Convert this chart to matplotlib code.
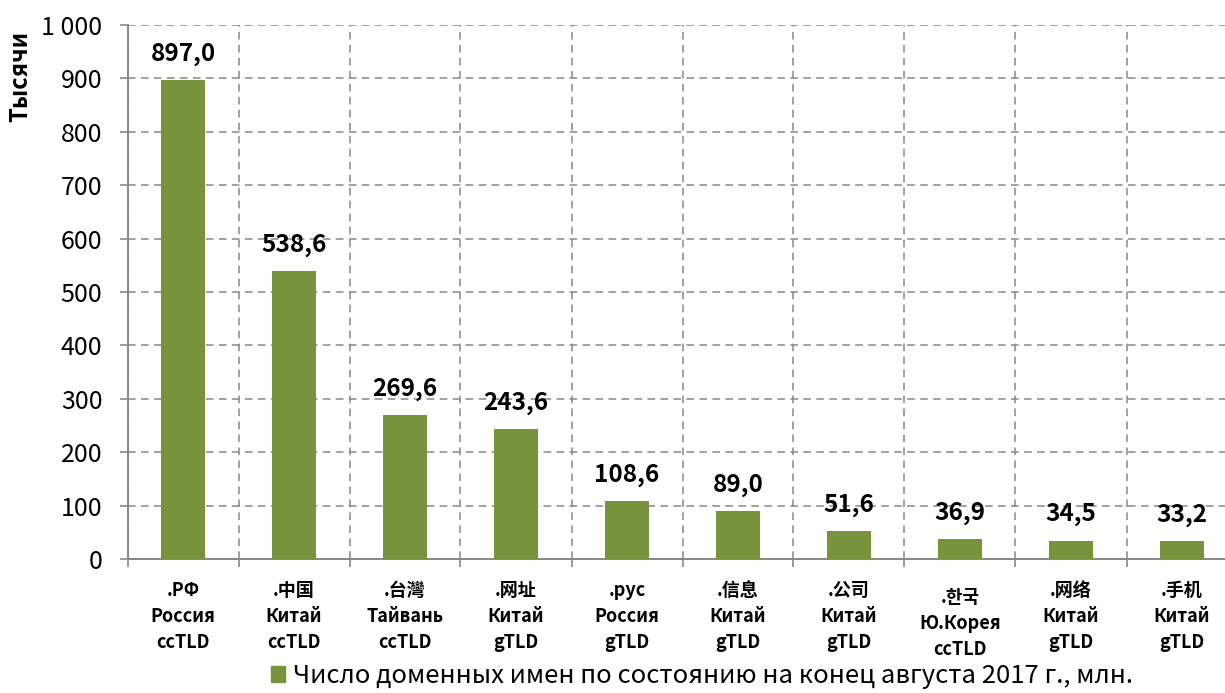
import matplotlib
matplotlib.use("Agg")
import matplotlib.pyplot as plt
from matplotlib.ticker import FuncFormatter, FixedLocator
from matplotlib.patches import Patch

plt.rcParams['font.family'] = ['Noto Sans CJK SC', 'DejaVu Sans']

domains = ['.РФ', '.中国', '.台灣', '.网址', '.рус', '.信息', '.公司', '.한국', '.网络', '.手机']
countries = ['Россия', 'Китай', 'Тайвань', 'Китай', 'Россия', 'Китай', 'Китай', 'Ю.Корея', 'Китай', 'Китай']
kinds = ['ccTLD', 'ccTLD', 'ccTLD', 'gTLD', 'gTLD', 'gTLD', 'gTLD', 'ccTLD', 'gTLD', 'gTLD']
values = [897.0, 538.6, 269.6, 243.6, 108.6, 89.0, 51.6, 36.9, 34.5, 33.2]
yticks = [0, 100, 200, 300, 400, 500, 600, 700, 800, 900, 1000]
series_name = 'Число доменных имен по состоянию на конец августа 2017 г., млн.'
y_title = 'Тысячи'

bar_color = '#77933C'
grid_color = '#878787'

fig = plt.figure(figsize=(12.25, 6.93), dpi=100)
ax = fig.add_axes([127.5 / 1225, 1 - 559 / 693, 1110 / 1225, 534 / 693])

x = list(range(len(values)))
ax.bar(x, values, width=0.4, color=bar_color, zorder=3)
ax.set_xlim(-0.5, len(values) - 0.5)
ax.set_ylim(0, 1000)

ax.set_yticks(yticks)
ax.yaxis.set_major_formatter(FuncFormatter(lambda v, p: f'{int(v):,}'.replace(',', ' ')))
ax.tick_params(axis='y', length=6, width=1.2, color=grid_color, pad=12, labelsize=18)

ax.set_xticks(x)
ax.set_xticklabels([''] * len(x))
ax.tick_params(axis='x', which='major', length=0)
ax.xaxis.set_minor_locator(FixedLocator([i + 0.5 for i in range(-1, len(values))]))
ax.tick_params(axis='x', which='minor', length=6, width=1.2, color=grid_color)

for xi, d, c, k in zip(x, domains, countries, kinds):
    shift = 21 if d == '.한국' else 16
    ax.annotate(f'{d}\n{c}\n{k}', (xi, 0), xycoords=('data', 'axes fraction'),
                xytext=(0, -shift), textcoords='offset points', ha='center', va='top',
                fontsize=13, fontweight='bold', linespacing=1.45, annotation_clip=False)

ax.grid(True, axis='y', which='major', color=grid_color, ls=(0, (5, 3.5)), lw=1.1, zorder=0)
ax.grid(True, axis='x', which='minor', color=grid_color, ls=(0, (5, 3.5)), lw=1.1, zorder=0)
ax.grid(False, axis='x', which='major')

for s in ['top', 'right']:
    ax.spines[s].set_visible(False)
for s in ['left', 'bottom']:
    ax.spines[s].set_color(grid_color)
    ax.spines[s].set_linewidth(1.4)

for xi, v in zip(x, values):
    ax.annotate(f'{v:.1f}'.replace('.', ','), (xi, v), xytext=(0, 19), textcoords='offset points',
                ha='center', va='center', fontsize=17.5, fontweight='bold', zorder=4)

fig.text(20 / 1225, 1 - 76 / 693, y_title, rotation=90, ha='center', va='center',
         fontsize=17, fontweight='bold')

fig.legend(handles=[Patch(color=bar_color)], labels=[series_name], loc='center',
           bbox_to_anchor=(702 / 1225, 1 - 676 / 693), frameon=False, fontsize=18.5,
           handlelength=0.55, handleheight=0.55, handletextpad=0.3, borderpad=0)

fig.savefig('out.png', dpi=100)
